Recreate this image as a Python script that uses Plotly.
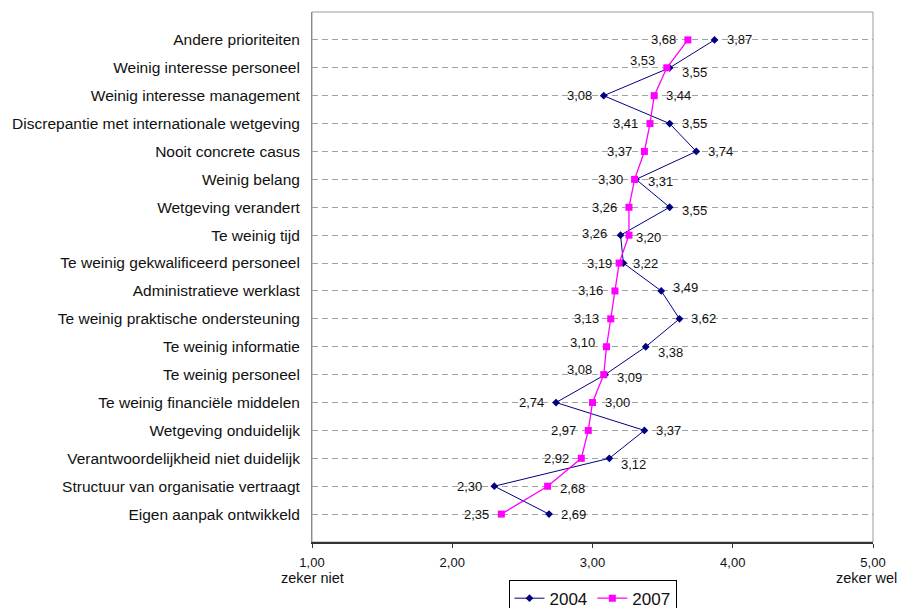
import plotly.graph_objects as go

# ---------------- data ----------------
categories = [
    "Andere prioriteiten",
    "Weinig interesse personeel",
    "Weinig interesse management",
    "Discrepantie met internationale wetgeving",
    "Nooit concrete casus",
    "Weinig belang",
    "Wetgeving verandert",
    "Te weinig tijd",
    "Te weinig gekwalificeerd personeel",
    "Administratieve werklast",
    "Te weinig praktische ondersteuning",
    "Te weinig informatie",
    "Te weinig personeel",
    "Te weinig financiële middelen",
    "Wetgeving onduidelijk",
    "Verantwoordelijkheid niet duidelijk",
    "Structuur van organisatie vertraagt",
    "Eigen aanpak ontwikkeld",
]
series_names = ["2004", "2007"]
v2004 = [3.87, 3.55, 3.08, 3.55, 3.74, 3.31, 3.55, 3.20, 3.22, 3.49,
         3.62, 3.38, 3.09, 2.74, 3.37, 3.12, 2.30, 2.69]
v2007 = [3.68, 3.53, 3.44, 3.41, 3.37, 3.30, 3.26, 3.26, 3.19, 3.16,
         3.13, 3.10, 3.08, 3.00, 2.97, 2.92, 2.68, 2.35]
x_ticks = [1, 2, 3, 4, 5]
end_labels = ["zeker niet", "zeker wel"]

# ---------------- label styling (side / pixel offsets) ----------------
side2004 = ["R"] * 18
side2007 = ["L"] * 18
for i in (2, 13, 16):
    side2004[i] = "L"
    side2007[i] = "R"
gap2004 = [10] * 18
gap2007 = [10] * 18
gap2004[7] = 13
gap2004[8] = 8
gap2007[7] = 20
gap2007[8] = 5
dy2004 = [0] * 18
dy2007 = [0] * 18
for i, d in {1: 5, 5: 2, 6: 3, 7: 2, 9: -3, 11: 6, 12: 3, 15: 6}.items():
    dy2004[i] = d
for i, d in {1: -7, 7: -2, 11: -4, 12: -5, 16: 2}.items():
    dy2007[i] = d
end_anchor = [("center", 0), ("right", 26)]

NAVY = "#000080"
MAGENTA = "#FF00FF"
FONT = "Liberation Sans, Arial, sans-serif"

fig = go.Figure()
fig.add_trace(go.Scatter(
    x=v2004, y=categories, mode="lines+markers", name=series_names[0],
    line=dict(color=NAVY, width=1),
    marker=dict(symbol="diamond", size=6, color=NAVY),
))
fig.add_trace(go.Scatter(
    x=v2007, y=categories, mode="lines+markers", name=series_names[1],
    line=dict(color=MAGENTA, width=1.3),
    marker=dict(symbol="square", size=7, color=MAGENTA),
))

annotations = []


def fmt(v):
    return f"{v:.2f}".replace(".", ",")


for vals, sides, gaps, dys in ((v2004, side2004, gap2004, dy2004),
                               (v2007, side2007, gap2007, dy2007)):
    for i, v in enumerate(vals):
        right = sides[i] == "R"
        annotations.append(dict(
            x=v, y=i, xref="x", yref="y", text=fmt(v), showarrow=False,
            xanchor="left" if right else "right", yanchor="middle",
            xshift=gaps[i] if right else -gaps[i], yshift=-dys[i],
            font=dict(family=FONT, size=13, color="#111111"),
        ))

for xv, txt, (anc, sh) in zip((x_ticks[0], x_ticks[-1]), end_labels, end_anchor):
    annotations.append(dict(
        x=xv, y=-0.068, xref="x", yref="paper", text=txt, showarrow=False,
        xanchor=anc, xshift=sh, yanchor="middle",
        font=dict(family=FONT, size=14.5, color="#111111"),
    ))

fig.update_layout(
    width=907, height=600,
    margin=dict(l=304, r=42, t=4, b=66, autoexpand=False),
    paper_bgcolor="white", plot_bgcolor="white",
    separators=",.",
    font=dict(family=FONT, color="#111111"),
    showlegend=True,
    legend=dict(
        orientation="h", x=0.5, xanchor="center", y=-0.071, yanchor="top",
        font=dict(family=FONT, size=17, color="#111111"),
        bordercolor="#000000", borderwidth=1, bgcolor="white",
        itemwidth=30,
    ),
    annotations=annotations,
    shapes=[dict(type="rect", xref="paper", yref="paper", x0=0, y0=0, x1=1, y1=1,
                 line=dict(color="#9a9a9a", width=1), layer="below")],
)

fig.update_xaxes(
    range=[1, 5], tickvals=x_ticks, tickformat=".2f",
    showgrid=False, zeroline=False,
    showline=True, linecolor="#333333", linewidth=2,
    ticks="outside", ticklen=4, tickcolor="#333333", tickwidth=1,
    tickfont=dict(family=FONT, size=13, color="#111111"),
    ticklabelstandoff=3,
)
fig.update_yaxes(
    type="category", categoryorder="array", categoryarray=categories,
    range=[18, -1],
    showgrid=True, gridcolor="#a0a0a0", gridwidth=1, griddash="6px,4px",
    zeroline=False, showline=True, linecolor="#8a8a8a", linewidth=1,
    ticks="", ticklabelstandoff=8,
    tickfont=dict(family=FONT, size=15.5, color="#111111"),
)

fig.write_html("out.html")
